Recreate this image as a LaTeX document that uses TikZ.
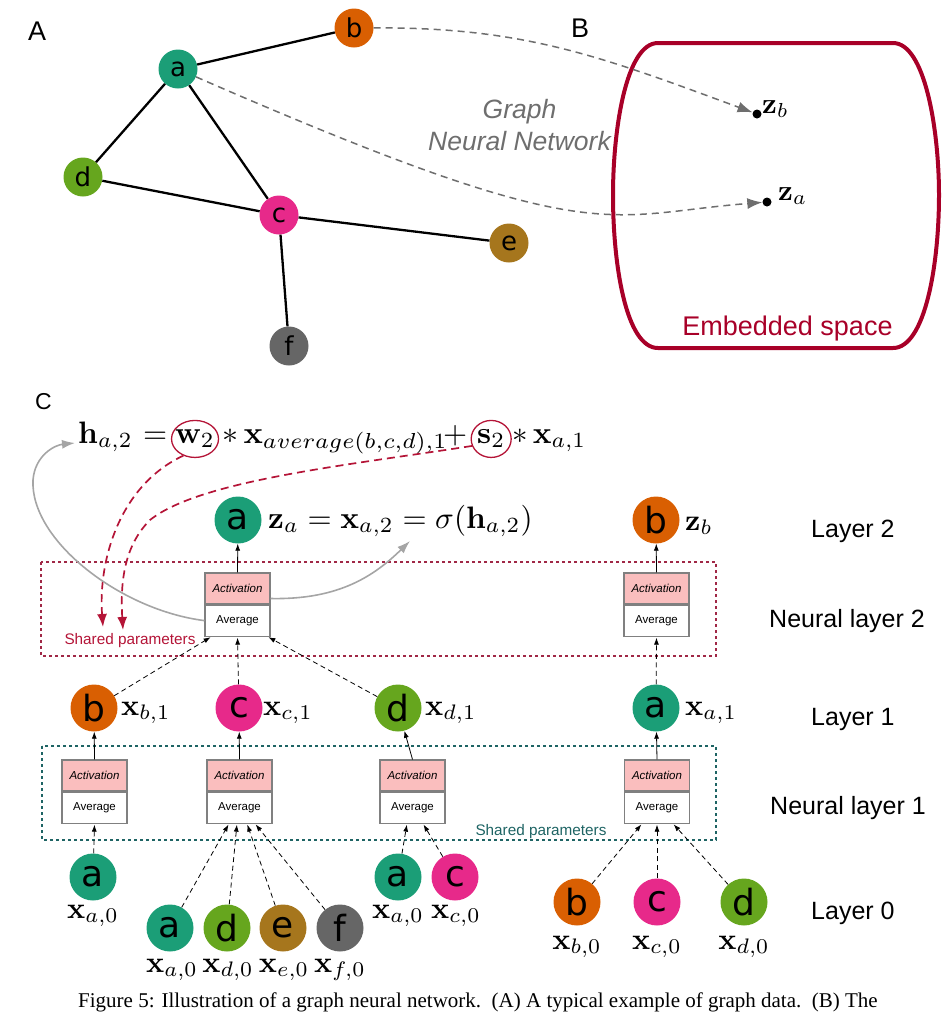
\documentclass[tikz,border=0pt]{standalone}
\usepackage[no-math]{fontspec}
\usepackage{graphicx}
\newfontfamily\lsans{Liberation Sans}
\newfontfamily\dvs{DejaVu Sans}
\newfontfamily\capfont{Liberation Serif}
\usetikzlibrary{shapes.geometric,arrows.meta}
\definecolor{ca}{HTML}{1B9E77}
\definecolor{cb}{HTML}{D95F02}
\definecolor{cc}{HTML}{E7298A}
\definecolor{cd}{HTML}{66A61E}
\definecolor{ce}{HTML}{A6761D}
\definecolor{cf}{HTML}{666666}
\definecolor{embred}{RGB}{168,0,40}
\definecolor{redc}{RGB}{180,20,55}
\definecolor{nl2red}{RGB}{160,40,70}
\definecolor{tealc}{RGB}{30,100,100}
\definecolor{actpink}{RGB}{250,190,190}
\definecolor{boxgray}{RGB}{128,128,128}
\definecolor{gnngray}{RGB}{110,110,110}
\definecolor{lgray}{RGB}{165,165,165}
\begin{document}
\begin{tikzpicture}[x=1pt,y=-1pt,
 gnode/.style={circle, inner sep=0pt, minimum size=39pt, font=\dvs\fontsize{26}{26}\selectfont},
 lnode/.style={circle, inner sep=0pt, minimum size=47pt, font=\dvs\fontsize{36}{36}\selectfont},
 gedge/.style={line width=2.3pt, black},
 dotn/.style={circle, fill=black, inner sep=0pt, minimum size=9pt},
 gnnarrow/.style={draw=gnngray, line width=1.5pt, dash pattern=on 7pt off 5pt, -{Latex[length=15pt,width=11pt]}},
 actbox/.style={draw=boxgray, fill=actpink, line width=1.1pt, minimum width=65pt, minimum height=31pt, inner sep=0pt, font=\lsans\itshape\fontsize{11.5}{11.5}\selectfont},
 avgbox/.style={draw=boxgray, fill=white, line width=1.1pt, minimum width=65pt, minimum height=31pt, inner sep=0pt, font=\lsans\fontsize{11.5}{11.5}\selectfont},
 solidup/.style={line width=0.8pt, -{Latex[length=7pt,width=5pt]}},
 dashup/.style={line width=0.8pt, dash pattern=on 5pt off 3.5pt, -{Latex[length=7pt,width=5pt]}, shorten >=1pt},
 mlab/.style={inner sep=0pt},
 sidelab/.style={inner sep=0pt, anchor=base west, font=\lsans\fontsize{25}{25}\selectfont},
 panellab/.style={inner sep=0pt, anchor=base west, font=\lsans\fontsize{27}{27}\selectfont},
 redellipse/.style={ellipse, draw=redc, line width=1.3pt, inner sep=0pt},
 reddash/.style={draw=redc, line width=1.7pt, dash pattern=on 8pt off 5pt, -{Latex[length=13pt,width=10pt]}},
 grayarrow/.style={draw=lgray, line width=1.6pt, -{Latex[length=13pt,width=9pt]}},
 sharedlab/.style={inner sep=0pt, anchor=base, font=\lsans\fontsize{15.3}{15.3}\selectfont},
 frame2/.style={draw=nl2red, line width=1.4pt, dash pattern=on 3pt off 3pt},
 frame1/.style={draw=tealc, line width=1.4pt, dash pattern=on 3pt off 3pt}
]
\useasboundingbox (0,0) rectangle (952,1013);

% ---------------- Panel A ----------------
\node[panellab] (labA) at (28,40) {A};
\node[gnode, fill=ca] (ga) at (178,69) {a};
\node[gnode, fill=cb] (gb) at (354,28) {b};
\node[gnode, fill=cd] (gd) at (83,177) {d};
\node[gnode, fill=cc] (gc) at (279,215) {c};
\node[gnode, fill=ce] (ge) at (509,243) {e};
\node[gnode, fill=cf] (gf) at (289,346) {f};
\draw[gedge] (ga) -- (gb);
\draw[gedge] (ga) -- (gd);
\draw[gedge] (ga) -- (gc);
\draw[gedge] (gd) -- (gc);
\draw[gedge] (gc) -- (ge);
\draw[gedge] (gc) -- (gf);

% ---------------- Panel B ----------------
\node[panellab] (labB) at (571,37) {B};
\draw[embred, line width=4pt, line join=round]
  (658,43) -- (893,43) .. controls (925,43) and (939,130) .. (939,195)
  .. controls (939,265) and (925,348) .. (893,348) -- (658,348)
  .. controls (626,348) and (613,265) .. (613,195)
  .. controls (613,130) and (626,43) .. (658,43) -- cycle;
\node[inner sep=0pt, anchor=base, text=embred, font=\lsans\fontsize{27}{27}\selectfont] (embl) at (787.5,335) {Embedded space};
\node[dotn] (zb) at (757,114) {};
\node[mlab, anchor=base west] (zbl) at (762,113) {\scalebox{2.9}{$\mathbf{z}_b$}};
\node[dotn] (za) at (767,202) {};
\node[mlab, anchor=base west] (zal) at (778,200) {\scalebox{2.9}{$\mathbf{z}_a$}};
\node[inner sep=0pt, anchor=base, text=gnngray, font=\lsans\itshape\fontsize{26.5}{26.5}\selectfont] (gnn1) at (519.5,118) {Graph};
\node[inner sep=0pt, anchor=base, text=gnngray, font=\lsans\itshape\fontsize{26.5}{26.5}\selectfont] (gnn2) at (519.5,150) {Neural Network};
\draw[gnnarrow] (gb) .. controls (525,27) and (602,57) .. (zb);
\draw[gnnarrow] (ga) .. controls (597,252) and (602,215) .. (za);

% ---------------- Panel C ----------------
\node[panellab, font=\lsans\fontsize{23}{23}\selectfont] (labC) at (35,409) {C};

% frames
\draw[frame2] (41,562) rectangle (716,656);
\draw[frame1] (42,746) rectangle (716,840);

% equation line 1
\node[mlab, anchor=base west] (e1) at (78,443) {\scalebox{3.1}{$\mathbf{h}_{a,2}$}};
\node[mlab, anchor=base west] (e2) at (143,443) {\scalebox{3.1}{$=$}};
\node[mlab, anchor=base west] (e3) at (175,443) {\scalebox{3.1}{$\mathbf{w}_2$}};
\node[mlab, anchor=base west] (e4) at (222,443) {\scalebox{3.2}[3.1]{$*\,\mathbf{x}_{average(b,c,d),1}$}};
\node[mlab, anchor=base west] (e5) at (443,443) {\scalebox{3.1}{$+$}};
\node[mlab, anchor=base west] (e6) at (477,443) {\scalebox{3.1}{$\mathbf{s}_2$}};
\node[mlab, anchor=base west] (e7) at (512,443) {\scalebox{3.1}{$*\,\mathbf{x}_{a,1}$}};
\node[redellipse, minimum width=47pt, minimum height=37pt] (w2el) at ([yshift=-0.5pt]e3.center) {};
\node[redellipse, minimum width=40pt, minimum height=37pt] (s2el) at ([yshift=-0.5pt]e6.center) {};

% layer 2
\node[lnode, fill=ca] (L2a) at (238,520) {a};
\node[lnode, fill=cb] (L2b) at (656,520) {b};
\node[mlab, anchor=base west] (e8) at (268,528) {\scalebox{3.1}{$\mathbf{z}_a = \mathbf{x}_{a,2} = \sigma(\mathbf{h}_{a,2})$}};
\node[mlab, anchor=base west] (zbL) at (685,530) {\scalebox{3}{$\mathbf{z}_b$}};

% neural layer 2 boxes
\node[actbox] (act2a) at (237.5,588.5) {Activation};
\node[avgbox, anchor=north] (avg2a) at (act2a.south) {Average};
\node[actbox] (act2b) at (656.5,588.5) {Activation};
\node[avgbox, anchor=north] (avg2b) at (act2b.south) {Average};

% layer 1
\node[lnode, fill=cb] (L1b) at (94,708) {b};
\node[lnode, fill=cc] (L1c) at (239,708) {c};
\node[lnode, fill=cd] (L1d) at (398,708) {d};
\node[lnode, fill=ca] (L1a) at (656,708) {a};
\node[mlab, anchor=base west] (lb1) at (121,715) {\scalebox{3}{$\mathbf{x}_{b,1}$}};
\node[mlab, anchor=base west] (lc1) at (263,715) {\scalebox{3}{$\mathbf{x}_{c,1}$}};
\node[mlab, anchor=base west] (ld1) at (425,715) {\scalebox{3}{$\mathbf{x}_{d,1}$}};
\node[mlab, anchor=base west] (la1) at (685,715) {\scalebox{3}{$\mathbf{x}_{a,1}$}};

% neural layer 1 boxes
\node[actbox] (act1b) at (94.5,775.5) {Activation};
\node[avgbox, anchor=north] (avg1b) at (act1b.south) {Average};
\node[actbox] (act1c) at (239.5,775.5) {Activation};
\node[avgbox, anchor=north] (avg1c) at (act1c.south) {Average};
\node[actbox] (act1d) at (412.5,775.5) {Activation};
\node[avgbox, anchor=north] (avg1d) at (act1d.south) {Average};
\node[actbox] (act1a) at (657,775.5) {Activation};
\node[avgbox, anchor=north] (avg1a) at (act1a.south) {Average};

% layer 0
\node[lnode, fill=ca] (A0a) at (93,877) {a};
\node[lnode, fill=ca] (C0a) at (170,928) {a};
\node[lnode, fill=cd] (C0d) at (227,928) {d};
\node[lnode, fill=ce] (C0e) at (283,928) {e};
\node[lnode, fill=cf] (C0f) at (340,928) {f};
\node[lnode, fill=ca] (D0a) at (398,877) {a};
\node[lnode, fill=cc] (D0c) at (455,877) {c};
\node[lnode, fill=cb] (E0b) at (577,902) {b};
\node[lnode, fill=cc] (E0c) at (657,902) {c};
\node[lnode, fill=cd] (E0d) at (744,902) {d};
\node[mlab, anchor=base] (lA0a) at (93,918) {\scalebox{3}{$\mathbf{x}_{a,0}$}};
\node[mlab, anchor=base] (lC0a) at (172,972) {\scalebox{3}{$\mathbf{x}_{a,0}$}};
\node[mlab, anchor=base] (lC0d) at (228,972) {\scalebox{3}{$\mathbf{x}_{d,0}$}};
\node[mlab, anchor=base] (lC0e) at (284,972) {\scalebox{3}{$\mathbf{x}_{e,0}$}};
\node[mlab, anchor=base] (lC0f) at (340,972) {\scalebox{3}{$\mathbf{x}_{f,0}$}};
\node[mlab, anchor=base] (lD0a) at (398,918) {\scalebox{3}{$\mathbf{x}_{a,0}$}};
\node[mlab, anchor=base] (lD0c) at (456,918) {\scalebox{3}{$\mathbf{x}_{c,0}$}};
\node[mlab, anchor=base] (lE0b) at (577,949) {\scalebox{3}{$\mathbf{x}_{b,0}$}};
\node[mlab, anchor=base] (lE0c) at (657,949) {\scalebox{3}{$\mathbf{x}_{c,0}$}};
\node[mlab, anchor=base] (lE0d) at (744,949) {\scalebox{3}{$\mathbf{x}_{d,0}$}};

% solid arrows box -> node
\draw[solidup] (act2a.north) -- (L2a);
\draw[solidup] (act2b.north) -- (L2b);
\draw[solidup] (act1b.north) -- (L1b);
\draw[solidup] (act1c.north) -- (L1c);
\draw[solidup] (act1d.north) -- (L1d);
\draw[solidup] (act1a.north) -- (L1a);

% dashed arrows layer 1 -> neural layer 2
\draw[dashup] (L1b) -- ([xshift=7pt]avg2a.south west);
\draw[dashup] (L1c) -- (avg2a.south);
\draw[dashup] (L1d) -- ([xshift=-3pt]avg2a.south east);
\draw[dashup] (L1a) -- (avg2b.south);

% dashed arrows layer 0 -> neural layer 1
\draw[dashup] (A0a) -- (avg1b.south);
\draw[dashup] (C0a) -- ([xshift=-10.5pt]avg1c.south);
\draw[dashup] (C0d) -- ([xshift=-2.5pt]avg1c.south);
\draw[dashup] (C0e) -- ([xshift=7.5pt]avg1c.south);
\draw[dashup] (C0f) -- ([xshift=15.5pt]avg1c.south);
\draw[dashup] (D0a) -- ([xshift=-5.5pt]avg1d.south);
\draw[dashup] (D0c) -- ([xshift=10.5pt]avg1d.south);
\draw[dashup] (E0b) -- ([xshift=-15pt]avg1a.south);
\draw[dashup] (E0c) -- (avg1a.south);
\draw[dashup] (E0d) -- ([xshift=16pt]avg1a.south);

% shared parameter labels
\node[sharedlab, text=redc] (shr) at (130,644) {Shared parameters};
\node[sharedlab, text=tealc] (sht) at (541,835) {Shared parameters};

% red dashed arrows
\coordinate (sp1) at (103,627);
\coordinate (sp2) at (123,630);
\draw[reddash] (w2el.235) .. controls (120,485) and (98,560) .. (sp1);
\draw[reddash] (s2el.200) .. controls (350,465) and (200,480) .. (150,520)
   .. controls (125,545) and (120,580) .. (sp2);

% gray arrows
\coordinate (htip) at ([xshift=-3pt]e1.base west);
\coordinate (sigtip) at (410,541);
\draw[grayarrow] (avg2a.west) .. controls (120,610) and (30,540) .. (33,480)
   .. controls (35,455) and (55,445) .. (htip);
\draw[grayarrow] ([yshift=-10pt]act2a.east) .. controls (340,600) and (375,575) .. (sigtip);

% side labels
\node[sidelab] (sl2) at (811,537) {Layer 2};
\node[sidelab] (snl2) at (769,627) {Neural layer 2};
\node[sidelab] (sl1) at (811,725) {Layer 1};
\node[sidelab] (snl1) at (770,814) {Neural layer 1};
\node[sidelab] (sl0) at (811,919) {Layer 0};

% caption
\node[inner sep=0pt, anchor=base west, font=\capfont\fontsize{21}{22}\selectfont] (cap) at (78,1007)
  {Figure 5: Illustration of a graph neural network.\ \ (A) A typical example of graph data.\ \ (B) The};
\end{tikzpicture}
\end{document}
